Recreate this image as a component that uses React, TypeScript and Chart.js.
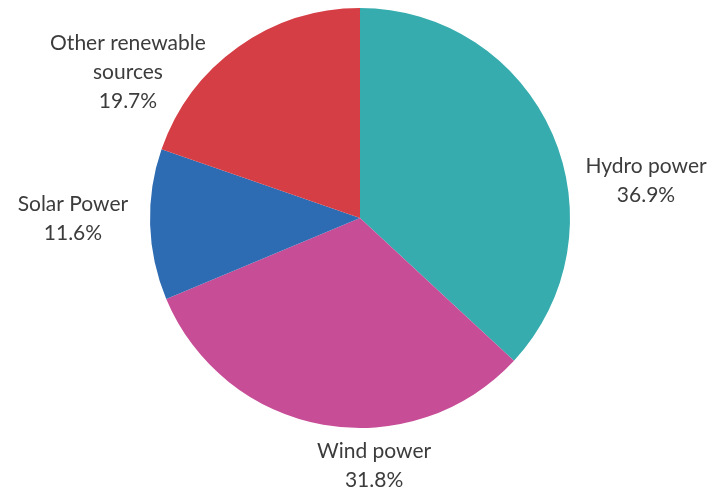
import React, { useEffect, useRef } from "react";
import { Chart, registerables } from "chart.js";

Chart.register(...registerables);

const categories = ["Hydro power", "Wind power", "Solar Power", "Other renewable sources"];
const shares = [36.9, 31.8, 11.6, 19.7];
const sliceColors = ["#36ACAE", "#C74D97", "#2D6BB2", "#D63E45"];

// Line breaks used for each slice label
const labelLines = [["Hydro power"], ["Wind power"], ["Solar Power"], ["Other renewable", "sources"]];

// Label block centres, relative to the pie centre, expressed in radius units
const labelOffsets = [
  [1.362, -0.176],
  [0.067, 1.181],
  [-1.367, 0.005],
  [-1.105, -0.695],
];

const pieLabels = {
  id: "pieLabels",
  afterDatasetsDraw(chart: any) {
    const { ctx } = chart;
    const meta = chart.getDatasetMeta(0);
    ctx.save();
    ctx.font = "21px Lato, 'Open Sans', sans-serif";
    ctx.fillStyle = "#3c3c3c";
    ctx.textAlign = "center";
    ctx.textBaseline = "middle";
    const lineH = 29;
    meta.data.forEach((arc: any, i: number) => {
      const { x, y, outerRadius } = arc.getProps(["x", "y", "outerRadius"], true);
      const lines = [...labelLines[i], shares[i].toFixed(1) + "%"];
      const cx = x + labelOffsets[i][0] * outerRadius;
      const cy = y + labelOffsets[i][1] * outerRadius;
      const top = cy - ((lines.length - 1) * lineH) / 2;
      lines.forEach((t, k) => ctx.fillText(t, cx, top + k * lineH));
    });
    ctx.restore();
  },
};

export default function App() {
  const ref = useRef<HTMLCanvasElement>(null);
  useEffect(() => {
    document.body.style.margin = "0";
    const chart = new Chart(ref.current!, {
      type: "pie",
      data: {
        labels: categories,
        datasets: [
          {
            data: shares,
            backgroundColor: sliceColors,
            borderWidth: 0,
          },
        ],
      },
      options: {
        responsive: false,
        animation: false,
        layout: { padding: { top: 8, bottom: 61, left: 150, right: 150 } },
        plugins: {
          legend: { display: false },
          tooltip: { enabled: false },
        },
      },
      plugins: [pieLabels],
    });
    return () => chart.destroy();
  }, []);
  return (
    <div style={{ width: 720, height: 489, background: "#fff" }}>
      <canvas ref={ref} width={720} height={489} />
    </div>
  );
}
